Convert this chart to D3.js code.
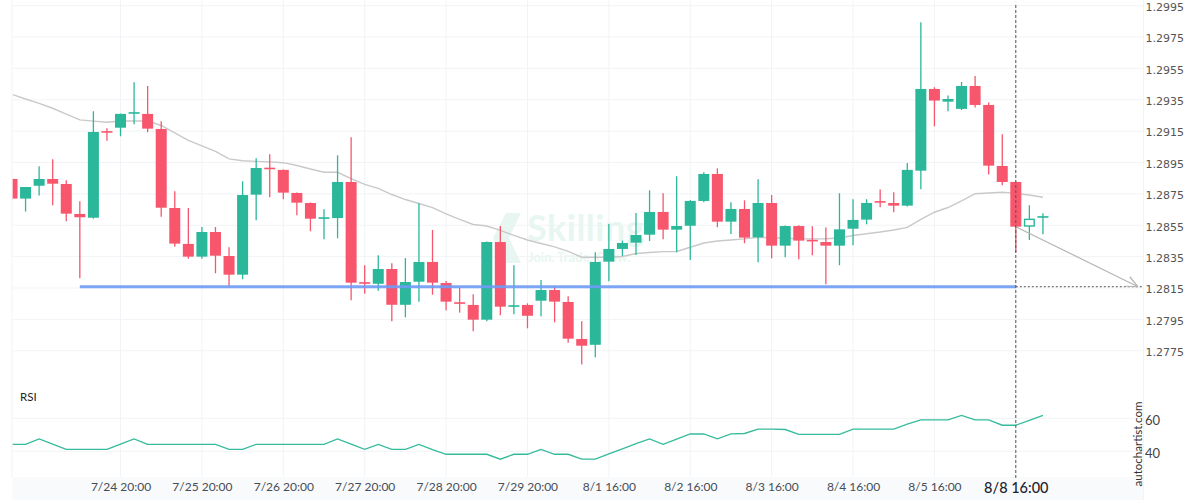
<!DOCTYPE html>
<html><head><meta charset="utf-8">
<script src="https://cdn.jsdelivr.net/npm/d3@7"></script>
<style>html,body{margin:0;padding:0;background:#fff;}svg{display:block;}</style>
</head><body>
<svg id="chart" width="1200" height="500"></svg>
<script>
// ---- data (4h candles) ----
const open = [1.28845,1.28720,1.28802,1.28845,1.28813,1.28622,1.28598,1.29145,1.29172,1.29262,
1.29260,1.29164,1.28660,1.28431,1.28350,1.28507,1.28354,1.28235,1.28745,1.28912,
1.28903,1.28756,1.28692,1.28593,1.28596,1.28826,1.28182,1.28177,1.28271,1.28043,
1.28190,1.28316,1.28182,1.28054,1.28042,1.27948,1.28443,1.28031,1.28042,1.28069,
1.28137,1.28061,1.27825,1.27788,1.28318,1.28399,1.28439,1.28490,1.28635,1.28522,
1.28547,1.28705,1.28877,1.28573,1.28654,1.28473,1.28692,1.28420,1.28545,1.28452,
1.28443,1.28420,1.28528,1.28586,1.28699,1.28692,1.28675,1.28898,1.29419,1.29338,
1.29292,1.29438,1.29317,1.28928,1.28826,1.28541,1.28599];
const high = [1.28852,1.28794,1.28926,1.28971,1.28837,1.28703,1.29277,1.29169,1.29263,1.29462,
1.29438,1.29213,1.28767,1.28660,1.28539,1.28539,1.28410,1.28831,1.28977,1.29003,
1.28906,1.28759,1.28695,1.28652,1.28996,1.29111,1.28295,1.28359,1.28308,1.28341,
1.28690,1.28520,1.28195,1.28152,1.28110,1.28447,1.28545,1.28295,1.28052,1.28201,
1.28161,1.28097,1.27938,1.28378,1.28558,1.28452,1.28628,1.28773,1.28754,1.28862,
1.28711,1.28888,1.28913,1.28697,1.28709,1.28843,1.28743,1.28549,1.28550,1.28544,
1.28535,1.28754,1.28716,1.28716,1.28778,1.28760,1.28947,1.29845,1.29430,1.29377,
1.29464,1.29502,1.29332,1.29130,1.28829,1.28678,1.28626];
const low = [1.28711,1.28637,1.28739,1.28677,1.28575,1.28212,1.28592,1.29088,1.29118,1.29194,
1.29143,1.28605,1.28413,1.28337,1.28337,1.28244,1.28158,1.28206,1.28582,1.28729,
1.28716,1.28614,1.28512,1.28461,1.28467,1.28072,1.28114,1.28133,1.27938,1.27963,
1.28063,1.28107,1.28008,1.27993,1.27874,1.27938,1.27976,1.27982,1.27893,1.27970,
1.27931,1.27801,1.27663,1.27708,1.28193,1.28354,1.28361,1.28450,1.28461,1.28378,
1.28329,1.28697,1.28537,1.28494,1.28435,1.28314,1.28339,1.28346,1.28333,1.28359,
1.28174,1.28295,1.28422,1.28556,1.28665,1.28633,1.28669,1.28780,1.29181,1.29277,
1.29285,1.29300,1.28873,1.28805,1.28378,1.28456,1.28493];
const close = [1.28720,1.28794,1.28845,1.28815,1.28624,1.28601,1.29145,1.29141,1.29260,1.29266,
1.29166,1.28662,1.28433,1.28350,1.28507,1.28356,1.28235,1.28743,1.28915,1.28906,
1.28758,1.28694,1.28592,1.28596,1.28826,1.28184,1.28178,1.28271,1.28043,1.28188,
1.28316,1.28184,1.28063,1.28051,1.27948,1.28443,1.28031,1.28035,1.27973,1.28137,
1.28063,1.27827,1.27782,1.28316,1.28399,1.28437,1.28488,1.28635,1.28522,1.28545,
1.28705,1.28877,1.28573,1.28654,1.28471,1.28692,1.28420,1.28545,1.28452,1.28448,
1.28420,1.28524,1.28584,1.28692,1.28695,1.28675,1.28903,1.29419,1.29345,1.29355,
1.29438,1.29317,1.28930,1.28826,1.28541,1.28592,1.28603];
const movingAvg = [1.29385,1.29355,1.29327,1.29296,1.29258,1.29222,1.29214,1.29207,1.29215,1.29215,
1.29215,1.29186,1.29139,1.29091,1.29056,1.29021,1.28973,1.28961,1.28957,1.28954,
1.28949,1.28931,1.28909,1.28888,1.28888,1.28848,1.28811,1.28785,1.28746,1.28714,
1.28689,1.28663,1.28622,1.28587,1.28555,1.28545,1.28517,1.28485,1.28456,1.28434,
1.28412,1.28383,1.28346,1.28346,1.28346,1.28351,1.28370,1.28376,1.28382,1.28383,
1.28410,1.28437,1.28450,1.28456,1.28463,1.28473,1.28470,1.28467,1.28464,1.28463,
1.28464,1.28469,1.28485,1.28496,1.28507,1.28520,1.28536,1.28587,1.28633,1.28663,
1.28705,1.28751,1.28756,1.28760,1.28753,1.28743,1.28729];
const rsi = [44.2,44.2,47.5,44.3,41.2,41.2,41.2,41.2,44.3,47.5,
44.2,44.2,44.2,44.2,44.2,44.2,41.2,41.2,44.2,44.2,
44.2,44.2,44.2,44.2,47.5,44.3,41.2,44.2,41.2,41.2,
44.2,41.0,38.2,38.2,38.2,38.2,35.2,38.2,38.2,41.2,
38.2,38.2,35.2,35.2,38.4,41.5,44.6,47.5,44.2,47.4,
50.5,50.5,47.5,50.5,50.8,53.5,53.5,53.2,50.3,50.3,
50.3,50.3,53.5,53.5,53.5,53.5,56.4,59.0,59.0,59.0,
61.8,59.0,59.0,55.8,55.8,58.8,61.8];
const supportLevel = 1.28158;
const lastIndex = 74;
const xTickIdx = [8,14,20,26,32,38,44,50,56,62,68,74];
const xTickLabels = ["7/24 20:00","7/25 20:00","7/26 20:00","7/27 20:00","7/28 20:00","7/29 20:00",
  "8/1 16:00","8/2 16:00","8/3 16:00","8/4 16:00","8/5 16:00","8/8 16:00"];
const yTicks = [1.2775,1.2795,1.2815,1.2835,1.2855,1.2875,1.2895,1.2915,1.2935,1.2955,1.2975,1.2995];
const rsiTicks = [40,60];

// ---- layout ----
const svg = d3.select("#chart");
const left = 12.5, right = 1143, mainBottom = 477;
const step = 13.565, bodyW = 11;
const n = open.length;
const x = d3.scaleLinear().domain([0, n-1]).range([12, 12 + (n-1)*step]);
const y = d3.scaleLinear().domain([1.2815, 1.2995]).range([288, 288 - 9*31.37]);
const yr = d3.scaleLinear().domain([40, 60]).range([451.3, 418.3]);
const green = "#2ab79a", red = "#f7566d", grid = "#f1f3f6";

// bottom label strip
svg.append("rect").attr("x", left).attr("y", mainBottom).attr("width", right-left).attr("height", 500-mainBottom).attr("fill", "#f9fafb");

// clip
svg.append("defs").append("clipPath").attr("id","plotclip")
  .append("rect").attr("x", left).attr("y", 0).attr("width", right-left).attr("height", mainBottom);

const g = svg.append("g").attr("clip-path","url(#plotclip)");

// grid
g.selectAll(".hg").data(yTicks).join("line")
  .attr("x1", left).attr("x2", right).attr("y1", d=>y(d)).attr("y2", d=>y(d))
  .attr("stroke", grid).attr("stroke-width",1);
g.selectAll(".rg").data(rsiTicks).join("line")
  .attr("x1", left).attr("x2", right).attr("y1", d=>yr(d)).attr("y2", d=>yr(d))
  .attr("stroke", grid).attr("stroke-width",1);
g.selectAll(".vg").data(xTickIdx).join("line")
  .attr("x1", d=>x(d)).attr("x2", d=>x(d)).attr("y1", 0).attr("y2", mainBottom)
  .attr("stroke", grid).attr("stroke-width",1);
svg.append("line").attr("x1", left-0.5).attr("x2", left-0.5).attr("y1",0).attr("y2",mainBottom).attr("stroke",grid);
svg.append("line").attr("x1", right+0.5).attr("x2", right+0.5).attr("y1",0).attr("y2",500).attr("stroke",grid);

// watermark
const wm = g.append("g").attr("fill","#e8f6f2");
wm.append("path").attr("d","M521,213 L506,213 L493,238 L506,263 L521,263 L509,238 Z");
wm.append("text").attr("x",527).attr("y",241).attr("font-family","Lato").attr("font-weight","bold")
  .attr("font-size",36).attr("letter-spacing",0.5).text("Skilling");
wm.append("text").attr("x",528).attr("y",262).attr("font-family","Lato").attr("font-weight","bold")
  .attr("font-size",13).text("Join. Trade. Grow.");

// moving average
g.append("path").datum(movingAvg)
  .attr("d", d3.line().x((d,i)=>x(i)).y(d=>y(d)))
  .attr("fill","none").attr("stroke","#c9c9c9").attr("stroke-width",1.4);

// candles
const idx = d3.range(n);
const cg = g.append("g");
cg.selectAll(".wick").data(idx).join("line")
  .attr("x1", i=>x(i)).attr("x2", i=>x(i))
  .attr("y1", i=>y(high[i])).attr("y2", i=>y(low[i]))
  .attr("stroke", i=> close[i]>=open[i]?green:red).attr("stroke-width",1.3);
const hollow = n-2;
cg.selectAll(".body").data(idx).join("rect")
  .attr("x", i=> i===hollow ? x(i)-bodyW/2+0.7 : x(i)-bodyW/2)
  .attr("y", i=> i===hollow ? Math.min(y(open[i]),y(close[i]))+0.7
      : Math.min(y(open[i]),y(close[i])) - (Math.abs(y(open[i])-y(close[i]))<1.6?0.8:0))
  .attr("width", i=> i===hollow ? bodyW-1.4 : bodyW)
  .attr("height", i=> i===hollow ? Math.abs(y(open[i])-y(close[i]))-1.4
      : Math.max(Math.abs(y(open[i])-y(close[i])),1.6))
  .attr("fill", i=> i===hollow ? "#fff" : (close[i]>=open[i]?green:red))
  .attr("stroke", i=> i===hollow ? green : "none")
  .attr("stroke-width", 1.4);

// support line
g.append("line").attr("x1", x(5)).attr("x2", x(lastIndex))
  .attr("y1", y(supportLevel)).attr("y2", y(supportLevel))
  .attr("stroke","#6f9cf6").attr("stroke-width",3).attr("opacity",0.9);
g.append("line").attr("x1", x(lastIndex)).attr("x2", right)
  .attr("y1", y(supportLevel)).attr("y2", y(supportLevel))
  .attr("stroke","#555").attr("stroke-width",1).attr("stroke-dasharray","2,2");

// forecast arrow
const ax0 = x(lastIndex), ay0 = y(close[lastIndex]), ax1 = 1138, ay1 = y(supportLevel);
g.append("line").attr("x1",ax0).attr("y1",ay0).attr("x2",ax1).attr("y2",ay1)
  .attr("stroke","#b5b5b5").attr("stroke-width",1.2);
const ang = Math.atan2(ay1-ay0, ax1-ax0);
[0.42,-0.42].forEach(a=>{
  g.append("line").attr("x1",ax1).attr("y1",ay1)
    .attr("x2", ax1-13*Math.cos(ang+a)).attr("y2", ay1-13*Math.sin(ang+a))
    .attr("stroke","#b5b5b5").attr("stroke-width",1.2);
});

// RSI line
g.append("path").datum(rsi)
  .attr("d", d3.line().x((d,i)=>x(i)).y(d=>yr(d)))
  .attr("fill","none").attr("stroke","#35bb9c").attr("stroke-width",1.3);

// vertical dashed current line
svg.append("line").attr("x1", x(lastIndex)).attr("x2", x(lastIndex)).attr("y1",5).attr("y2",mainBottom+1)
  .attr("stroke","#555").attr("stroke-width",1).attr("stroke-dasharray","3,2");

// RSI label
svg.append("text").attr("x",20).attr("y",401).attr("font-family","Lato").attr("font-size",11.5)
  .attr("fill","#222").text("RSI");

// price axis
const yAxis = svg.append("g").attr("transform",`translate(${right},1.3)`)
  .call(d3.axisRight(y).tickValues(yTicks).tickSize(0).tickPadding(2.5).tickFormat(d3.format(".4f")));
yAxis.select(".domain").remove();
yAxis.selectAll("text").attr("font-family","DejaVu Sans").attr("font-size",11).attr("fill","#555");

// RSI axis
const rAxis = svg.append("g").attr("transform",`translate(${right},2.5)`)
  .call(d3.axisRight(yr).tickValues(rsiTicks).tickSize(0).tickPadding(2));
rAxis.select(".domain").remove();
rAxis.selectAll("text").attr("font-family","Lato").attr("font-size",13).attr("fill","#444");

// x axis
const xAxis = svg.append("g").attr("transform",`translate(0,${mainBottom})`)
  .call(d3.axisBottom(x).tickValues(xTickIdx).tickSize(0).tickPadding(5.5).tickFormat((d,i)=>xTickLabels[i]));
xAxis.select(".domain").remove();
xAxis.selectAll("text").attr("font-family","Lato").attr("font-size",12).attr("fill","#454d57");
xAxis.selectAll("text").filter(d=>d===lastIndex).attr("font-size",14.5).attr("fill","#1d2430").attr("font-weight",500);

// autochartist.com
svg.append("text").attr("transform","translate(1142,444) rotate(-90)")
  .attr("text-anchor","middle").attr("font-family","Lato").attr("font-size",11.5)
  .attr("fill","#333").text("autochartist.com");
</script>
</body></html>
